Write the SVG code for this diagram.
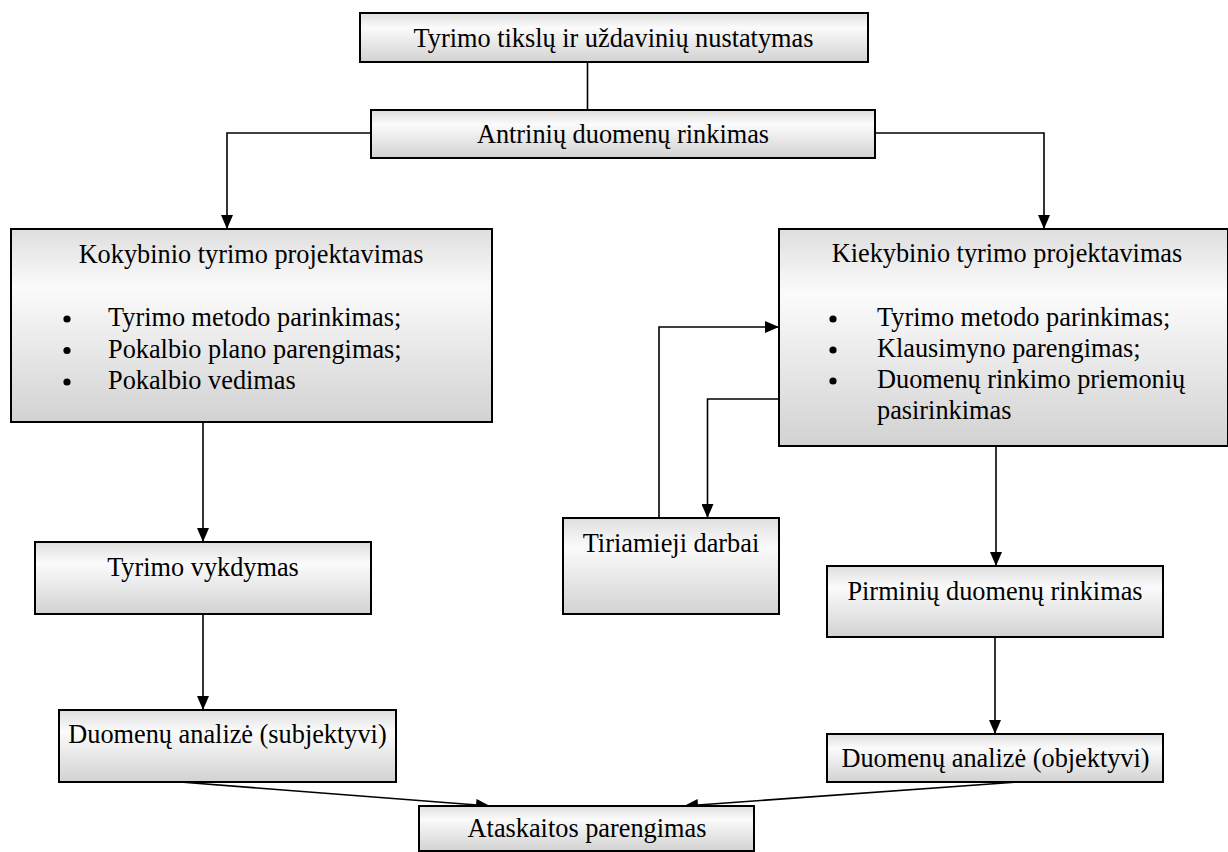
<svg xmlns="http://www.w3.org/2000/svg" width="1228" height="852" viewBox="0 0 1228 852">
<defs>
<linearGradient id="g" x1="0" y1="0" x2="0" y2="1">
<stop offset="0" stop-color="#dedede"/>
<stop offset="0.3" stop-color="#fbfbfb"/>
<stop offset="1" stop-color="#d2d2d2"/>
</linearGradient>
<marker id="ah" viewBox="0 0 14 12" refX="14" refY="6" markerWidth="14" markerHeight="12" markerUnits="userSpaceOnUse" orient="auto">
<path d="M0,0 L14,6 L0,12 Z" fill="#000"/>
</marker>
</defs>
<style>
.box{fill:url(#g);stroke:#000;stroke-width:2}
.t{font-family:"Liberation Serif","Times New Roman",serif;font-size:26.3px;fill:#000}
.c{text-anchor:middle}
.ln{fill:none;stroke:#000;stroke-width:1.6}
.ar{fill:none;stroke:#000;stroke-width:1.6;marker-end:url(#ah)}
</style>
<rect width="1228" height="852" fill="#fff"/>
<g id="connectors">
<path class="ln" d="M587.5,62 V110"/>
<path class="ar" d="M371,133 H227 V229"/>
<path class="ar" d="M875,133 H1044 V229"/>
<path class="ar" d="M203,422 V542"/>
<path class="ar" d="M203,614 V710"/>
<path class="ar" d="M659,518 V327 H779"/>
<path class="ar" d="M779,399 H707.5 V518"/>
<path class="ar" d="M996,446 V566"/>
<path class="ar" d="M995,637 V734"/>
<path class="ar" d="M180,782 L490,806"/>
<path class="ar" d="M1018,782 L684,806"/>
</g>
<g id="n-top">
<rect class="box" x="360" y="13" width="508" height="49"/>
<text class="t c" x="613.5" y="46.5">Tyrimo tikslų ir uždavinių nustatymas</text>
</g>
<g id="n-antriniu">
<rect class="box" x="371" y="110" width="504" height="48"/>
<text class="t c" x="623" y="143">Antrinių duomenų rinkimas</text>
</g>
<g id="n-kokybinio">
<rect class="box" x="11" y="229" width="481" height="193"/>
<text class="t c" x="251" y="263">Kokybinio tyrimo projektavimas</text>
<circle cx="67" cy="319" r="3.6"/>
<text class="t" x="108" y="326">Tyrimo metodo parinkimas;</text>
<circle cx="67" cy="350.5" r="3.6"/>
<text class="t" x="108" y="357.5">Pokalbio plano parengimas;</text>
<circle cx="67" cy="382" r="3.6"/>
<text class="t" x="108" y="389">Pokalbio vedimas</text>
</g>
<g id="n-kiekybinio">
<rect class="box" x="779" y="229" width="449" height="217"/>
<text class="t c" x="1007" y="262">Kiekybinio tyrimo projektavimas</text>
<circle cx="833" cy="319" r="3.6"/>
<text class="t" x="877" y="326">Tyrimo metodo parinkimas;</text>
<circle cx="833" cy="350" r="3.6"/>
<text class="t" x="877" y="357">Klausimyno parengimas;</text>
<circle cx="833" cy="381" r="3.6"/>
<text class="t" x="877" y="388">Duomenų rinkimo priemonių</text>
<text class="t" x="877" y="419">pasirinkimas</text>
</g>
<g id="n-vykdymas">
<rect class="box" x="35" y="542" width="336" height="72"/>
<text class="t c" x="203" y="576">Tyrimo vykdymas</text>
</g>
<g id="n-tiriamieji">
<rect class="box" x="563" y="518" width="216" height="96"/>
<text class="t c" x="671" y="552">Tiriamieji darbai</text>
</g>
<g id="n-pirminiu">
<rect class="box" x="827" y="566" width="336" height="71"/>
<text class="t c" x="995" y="600">Pirminių duomenų rinkimas</text>
</g>
<g id="n-subjektyvi">
<rect class="box" x="59" y="710" width="337" height="72"/>
<text class="t c" x="227.5" y="743">Duomenų analizė (subjektyvi)</text>
</g>
<g id="n-objektyvi">
<rect class="box" x="827" y="734" width="336" height="48"/>
<text class="t c" x="995.5" y="767">Duomenų analizė (objektyvi)</text>
</g>
<g id="n-ataskaitos">
<rect class="box" x="419" y="806" width="335" height="45"/>
<text class="t c" x="587" y="837">Ataskaitos parengimas</text>
</g>
</svg>
